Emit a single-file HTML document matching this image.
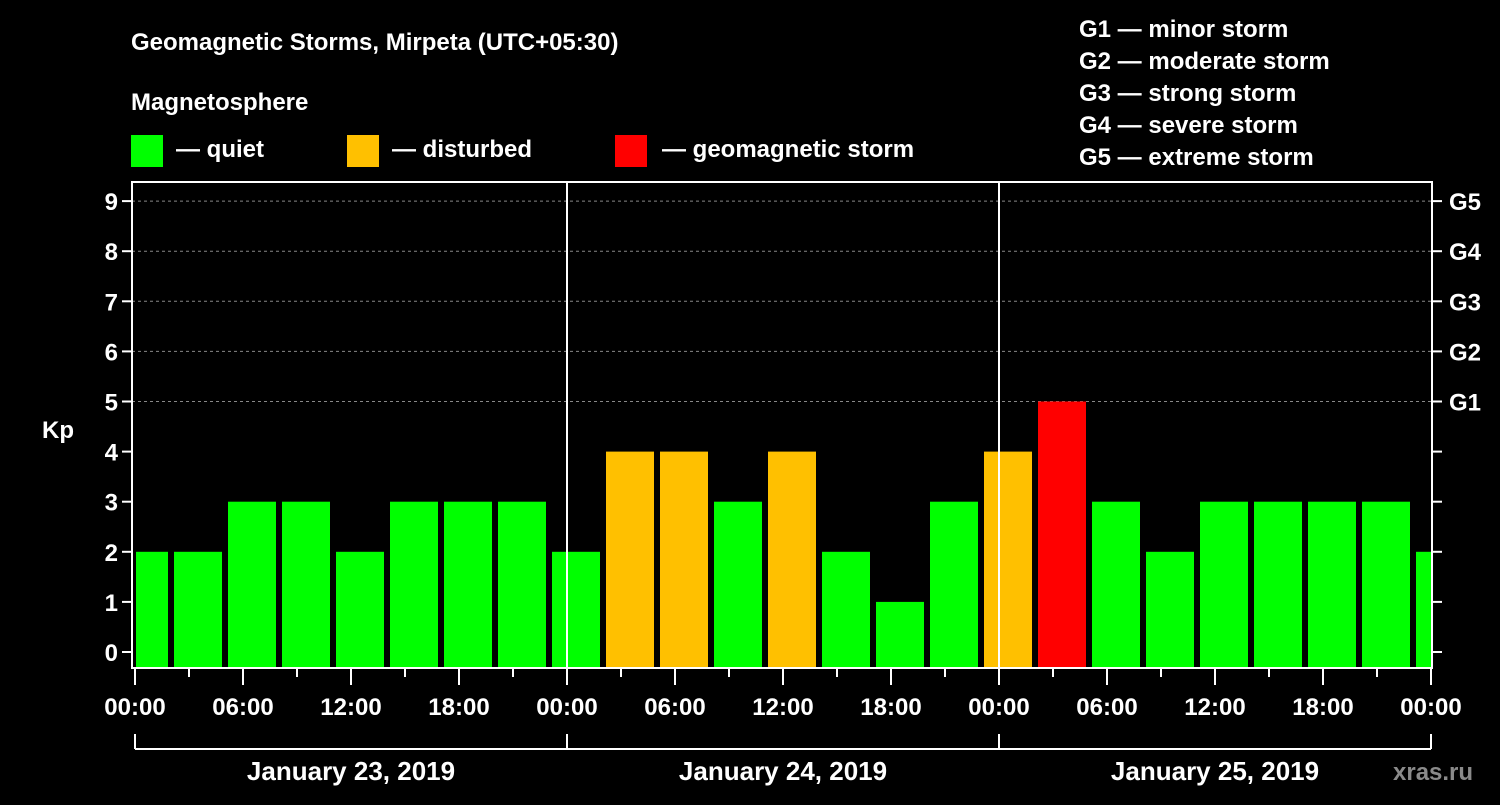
<!DOCTYPE html>
<html><head><meta charset="utf-8"><style>
body{margin:0;background:#000;width:1500px;height:800px;overflow:hidden}
svg text{font-family:"Liberation Sans",sans-serif;font-weight:bold;fill:#fff}
</style></head><body>
<svg id="c" width="1500" height="800">
<text x="131" y="50" font-size="24">Geomagnetic Storms, Mirpeta (UTC+05:30)</text>
<text x="131" y="110" font-size="24">Magnetosphere</text>
<rect x="131" y="135" width="32" height="32" fill="#00ff00"/>
<text x="176" y="157" font-size="24">— quiet</text>
<rect x="347" y="135" width="32" height="32" fill="#ffc000"/>
<text x="392" y="157" font-size="24">— disturbed</text>
<rect x="615" y="135" width="32" height="32" fill="#ff0000"/>
<text x="662" y="157" font-size="24">— geomagnetic storm</text>
<g font-size="24">
<text x="1079" y="37">G1 — minor storm</text>
<text x="1079" y="69">G2 — moderate storm</text>
<text x="1079" y="101">G3 — strong storm</text>
<text x="1079" y="133">G4 — severe storm</text>
<text x="1079" y="165">G5 — extreme storm</text>
</g>
<g id="grid"></g><g id="bars"></g><g id="axes"></g>
<text x="42" y="438" font-size="24">Kp</text>
<text x="1393" y="780" font-size="24" fill="#888" style="fill:#8a8a8a">xras.ru</text>
</svg>
<script>
const values=[2,2,3,3,2,3,3,3,2,4,4,3,4,2,1,3,4,5,3,2,3,3,3,3,2];
const yTicks=[0,1,2,3,4,5,6,7,8,9];
const gLabels=["G1","G2","G3","G4","G5"];
const xLabels=["00:00","06:00","12:00","18:00","00:00","06:00","12:00","18:00","00:00","06:00","12:00","18:00","00:00"];
const dates=["January 23, 2019","January 24, 2019","January 25, 2019"];
const NS="http://www.w3.org/2000/svg";
const L=132,R=1432,T=182,B=668,X0=135,PH=18;
const y=v=>652-v*50.1;
const x=h=>X0+h*PH;
function mk(p,t,a){const e=document.createElementNS(NS,t);for(const k in a)e.setAttribute(k,a[k]);document.getElementById(p).appendChild(e);return e;}
yTicks.forEach(v=>{if(v>=5){const g=mk('grid','line',{x1:L,x2:R,y1:y(v),y2:y(v),stroke:'#888','stroke-dasharray':'3,3','stroke-width':1});

}});
values.forEach((v,i)=>{let x1=x(2+3*(i-1))+3,x2=x(2+3*i)-3;if(x1<L+4)x1=L+4;if(x2>R)x2=R-1;
const col=v>=5?'#ff0000':v>=4?'#ffc000':'#00ff00';
const r=mk('bars','rect',{x:x1,y:y(v),width:x2-x1,height:B-y(v),fill:col});

});
const ax=mk('axes','rect',{x:L,y:T,width:R-L,height:B-T,fill:'none',stroke:'#fff','stroke-width':2});


[1,2].forEach(d=>{const l=mk('axes','line',{x1:x(24*d),x2:x(24*d),y1:T,y2:B,stroke:'#fff','stroke-width':2});

});
yTicks.forEach(v=>{mk('axes','line',{x1:L-10,x2:L,y1:y(v),y2:y(v),stroke:'#fff','stroke-width':2});
mk('axes','line',{x1:R,x2:R+10,y1:y(v),y2:y(v),stroke:'#fff','stroke-width':2});
const t=mk('axes','text',{x:L-14,y:y(v)+9,'text-anchor':'end','font-size':24});t.textContent=v;

});
gLabels.forEach((g,i)=>{const t=mk('axes','text',{x:R+17,y:y(5+i)+9,'font-size':24});t.textContent=g;

});
for(let h=0;h<=72;h+=3){mk('axes','line',{x1:x(h),x2:x(h),y1:B,y2:B+(h%6?9:17),stroke:'#fff','stroke-width':2});}
xLabels.forEach((s,i)=>{const t=mk('axes','text',{x:x(6*i),y:715,'text-anchor':'middle','font-size':24});t.textContent=s;

});
mk('axes','line',{x1:x(0),x2:x(72),y1:749,y2:749,stroke:'#fff','stroke-width':2});
for(let d=0;d<=3;d++)mk('axes','line',{x1:x(24*d),x2:x(24*d),y1:734,y2:749,stroke:'#fff','stroke-width':2});
dates.forEach((s,i)=>{const t=mk('axes','text',{x:x(24*i+12),y:780,'text-anchor':'middle','font-size':26});t.textContent=s;

});
</script>
</body></html>
